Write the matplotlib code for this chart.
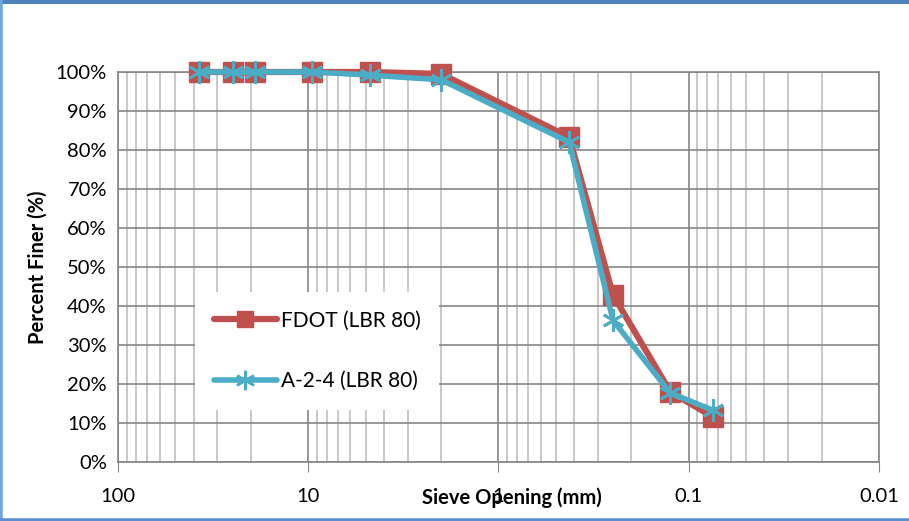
import matplotlib.pyplot as plt
import matplotlib.lines as mlines
from matplotlib.ticker import LogLocator, FixedLocator, NullFormatter, PercentFormatter

plt.rcParams['font.family'] = ['Lato', 'DejaVu Sans']

# sieve openings (mm) and percent finer
sieve_mm = [37.5, 25.0, 19.0, 9.5, 4.75, 2.0, 0.425, 0.25, 0.125, 0.075]
fdot = [100, 100, 100, 100, 100, 99.5, 83.3, 42.8, 18.0, 11.6]
a24 = [100, 100, 100, 100, 99.2, 98.0, 82.0, 36.3, 17.7, 13.3]

x_ticks = [100, 10, 1, 0.1, 0.01]
x_ticklabels = ["100", "10", "1", "0.1", "0.01"]

red = "#C0504D"
blue = "#4BACC6"

fig = plt.figure(figsize=(9.09, 5.21), dpi=100)
ax = fig.add_axes([118 / 909, 1 - 462 / 521, (879 - 118) / 909, (462 - 72) / 521])

ax.plot(sieve_mm, fdot, color=red, lw=4.5, marker='s', ms=14, mec=red, mfc=red,
        label="FDOT (LBR 80)", zorder=3, solid_joinstyle='round', clip_on=False)
ax.plot(sieve_mm, a24, color=blue, lw=4, marker=(6, 2, 0), ms=16, mew=2, mec=blue,
        label="A-2-4 (LBR 80)", zorder=4, solid_joinstyle='round', clip_on=False)

ax.set_xscale('log')
ax.set_xlim(100, 0.01)
ax.set_ylim(0, 100)
ax.set_xticks(x_ticks)
ax.set_xticklabels(x_ticklabels)
ax.xaxis.set_minor_locator(LogLocator(base=10, subs=range(2, 10)))
ax.xaxis.set_minor_formatter(NullFormatter())
ax.yaxis.set_major_locator(FixedLocator(range(0, 101, 10)))
ax.yaxis.set_major_formatter(PercentFormatter(decimals=0))

ax.grid(True, which='major', axis='both', color='#868686', lw=1.2, zorder=0)
ax.grid(True, which='minor', axis='x', color='#BFBFBF', lw=1.2, zorder=0)
ax.set_axisbelow(True)
for s in ax.spines.values():
    s.set_color('#868686')
    s.set_linewidth(1.2)

ax.tick_params(axis='x', which='major', length=7, color='#868686', labelsize=14.5, pad=12)
ax.tick_params(axis='x', which='minor', length=0)
ax.tick_params(axis='y', length=0, labelsize=14.5, pad=8)

ax.set_ylabel("Percent Finer (%)", fontsize=14.5, fontweight='bold', labelpad=6)
fig.text(512 / 909, 1 - 498 / 521, "Sieve Opening (mm)", fontsize=14.5, fontweight='bold',
         ha='center', va='center')

h1 = mlines.Line2D([], [], color=red, lw=4.5, marker='s', ms=12, mec=red, solid_capstyle='round')
h2 = mlines.Line2D([], [], color=blue, lw=4, marker=(6, 2, 0), ms=14, mew=1.8, mec=blue,
                   solid_capstyle='round')
leg = ax.legend([h1, h2], ["FDOT (LBR 80)", "A-2-4 (LBR 80)"], loc='lower left',
                bbox_to_anchor=(0.088, 0.107), frameon=True, fontsize=15,
                handlelength=3.0, labelspacing=1.95, borderpad=0.9, handletextpad=0.2)
leg.get_frame().set_edgecolor('none')
leg.get_frame().set_facecolor('white')
leg.get_frame().set_alpha(1)

# blue frame on top, left and bottom of the figure
fig.add_artist(mlines.Line2D([0, 1], [1, 1], transform=fig.transFigure, color='#4F81BD', lw=5))
fig.add_artist(mlines.Line2D([0, 0], [0, 1], transform=fig.transFigure, color='#6FA8DC', lw=4))
fig.add_artist(mlines.Line2D([0, 1], [0, 0], transform=fig.transFigure, color='#5B8FD0', lw=4))

fig.savefig("out.png", dpi=100)
